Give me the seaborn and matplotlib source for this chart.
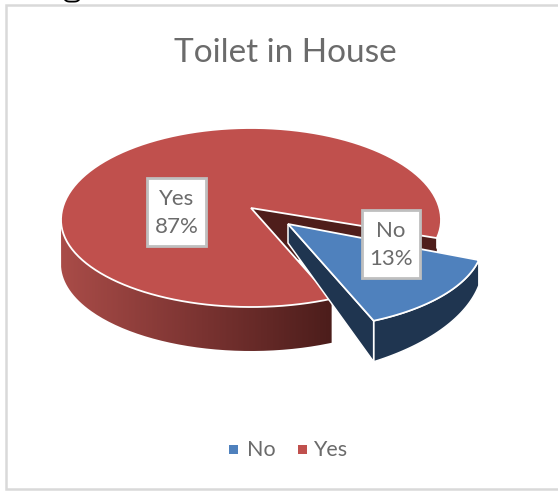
import numpy as np
import matplotlib
matplotlib.use("Agg")
import matplotlib.pyplot as plt
from matplotlib.patches import Rectangle, PathPatch
from matplotlib.path import Path
from matplotlib.colors import LinearSegmentedColormap
import seaborn as sns

title = "Toilet in House"
categories = ["No", "Yes"]
shares = [13, 87]
face_colors = ["#4F81BD", "#C0504D"]

sns.set_theme(style="white")
plt.rcParams["font.family"] = ["Lato", "DejaVu Sans"]
TEXT = "#6b6b6b"

fig = plt.figure(figsize=(5.58, 4.91), dpi=100)
ax = fig.add_axes([0, 0, 1, 1])
ax.set_xlim(0, 558)
ax.set_ylim(491, 0)
ax.axis("off")

# chart frame
ax.add_patch(Rectangle((6, 4.5), 600, 484, fc="white", ec="#D9D9D9", lw=1.8))

# sliver of ink left along the top edge, above the frame
ink = np.linspace(-1, 1, 30)
ax.plot(72 + 7 * ink, 1.6 - 1.8 * ink ** 4, color="black", lw=1.3, zorder=1)

# tilted pie projection: the near half of the ellipse is flatter than the far half
CX, CY, RX, RY_FAR, RY_NEAR, DEPTH = 251, 220, 190, 92, 87, 44
SPREAD = 1.13  # foreshortening of slice angles at the front of the tilt
gap = 360 * shares[0] / sum(shares) * SPREAD
START = 12.0  # degrees below the horizontal where the small slice begins


def arc(a0, a1, dx=0, dy=0, n=120):
    t = np.radians(np.linspace(a0, a1, n))
    s = np.sin(t)
    return CX + dx + RX * np.cos(t), CY + dy + np.where(s > 0, RY_NEAR, RY_FAR) * s


# large slice: back wall of the notch, curved side, then top face
yes_apex = (251, 208)
ex, ey = arc(START, START, n=1)
ax.fill([yes_apex[0], ex[0], ex[0], yes_apex[0]],
        [yes_apex[1], ey[0], ey[0] + DEPTH, yes_apex[1] + DEPTH],
        fc="#4F1E1B", ec="none", zorder=2)
ax.plot([ex[0] + 0.5, ex[0] + 0.5], [ey[0] - 4, ey[0] + 10], color="white", lw=1.2, zorder=2.1)

xs, ys = arc(START + gap, 180)
side = Path(np.c_[np.r_[xs, xs[::-1]], np.r_[ys, ys[::-1] + DEPTH]])
shade = LinearSegmentedColormap.from_list("side", ["#A94C48", "#7C3432", "#4C1D1B"])
img = ax.imshow(np.linspace(0, 1, 256)[None, :], cmap=shade, aspect="auto",
                extent=(xs.min(), xs.max(), 360, 200), zorder=3)
img.set_clip_path(PathPatch(side, transform=ax.transData))
ax.set_xlim(0, 558)
ax.set_ylim(491, 0)

xs, ys = arc(START + gap, 360 + START)
ax.fill(np.r_[yes_apex[0], xs], np.r_[yes_apex[1], ys],
        fc=face_colors[1], ec="white", lw=1.3, joinstyle="miter", zorder=4)

# pulled-out small slice: side walls, then top face
OX, OY = 42, 22
no_apex = (288, 224)
xs, ys = arc(START, START + gap, OX, OY)
DEPTH_NO = 41
taper = np.linspace(0.62, 1.0, len(xs))
ax.fill(np.r_[xs, xs[::-1]], np.r_[ys, (ys + DEPTH_NO * taper)[::-1]],
        fc="#1F3550", ec="white", lw=1.1, zorder=5)
ax.fill([no_apex[0], xs[-1], xs[-1], no_apex[0]],
        [no_apex[1], ys[-1], ys[-1] + DEPTH_NO, no_apex[1] + 19],
        fc="#1F3550", ec="white", lw=1.1, zorder=5)
ax.fill(np.r_[no_apex[0], xs], np.r_[no_apex[1], ys],
        fc=face_colors[0], ec="white", lw=1.3, joinstyle="miter", zorder=6)

# value labels
for name, share, (bx, by, bw, bh) in zip(
        categories, shares, [(362, 210, 58, 68), (147, 178, 59, 68)]):
    ax.add_patch(Rectangle((bx, by), bw, bh, fc="white", ec="#BFBFBF", lw=2, zorder=7))
    ax.text(bx + bw / 2, by + bh / 2 + 1, f"{name}\n{share}%", ha="center", va="center",
            fontsize=16, color=TEXT, linespacing=1.45, zorder=8)

ax.text(285.5, 52.5, title, ha="center", va="center", fontsize=24, color=TEXT)

# legend row
for name, color, sx, tx in zip(categories, face_colors, (229, 298), (247, 313)):
    ax.add_patch(Rectangle((sx, 445), 9, 9, fc=color, ec="none"))
    ax.text(tx, 450, name, ha="left", va="center", fontsize=15.5, color=TEXT)

fig.savefig("out.png", dpi=100)
